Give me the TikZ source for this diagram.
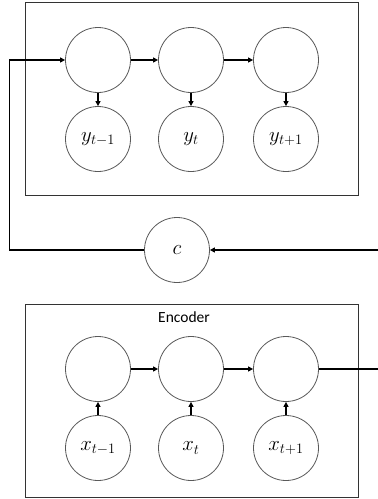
\documentclass[tikz,border=0pt]{standalone}
\usepackage{fontspec}
\newfontfamily\encfont{Carlito}
\usetikzlibrary{arrows.meta}
\tikzset{
  cell/.style={circle,draw=black!65,line width=0.8pt,minimum size=65pt,inner sep=0pt,
    font=\fontsize{20}{24}\selectfont},
  frame/.style={draw=black!80,line width=0.9pt},
  link/.style={line width=1.3pt,-{Triangle[length=5pt,width=5pt]}},
  wire/.style={line width=1.3pt}
}

\begin{document}
\begin{tikzpicture}[x=1pt,y=-1pt]
  \useasboundingbox (0,0) rectangle (378,499);
  % the two frames
  \draw[frame] (25,2) rectangle (358,195);
  \draw[frame] (25,304) rectangle (358,497);
  \node[font=\encfont\fontsize{15.5}{18}\selectfont] (enc) at (184,317) {Encoder};
  % three time steps, top and bottom
  \foreach \i/\xc/\s in {1/98/t-1,2/191/t,3/286/t+1}{
    \node[cell] (h\i) at (\xc,60) {};
    \node[cell] (y\i) at (\xc,139) {$y_{\s}$};
    \node[cell] (e\i) at (\xc,369) {};
    \node[cell] (x\i) at (\xc,448) {$x_{\s}$};
    \draw[link] (h\i) -- (y\i);
    \draw[link] (x\i) -- (e\i);
  }
  \draw[link] (h1) -- (h2);
  \draw[link] (h2) -- (h3);
  \draw[link] (e1) -- (e2);
  \draw[link] (e2) -- (e3);
  % context vector
  \node[cell] (c) at (177,250) {$c$};
  \coordinate (out) at (378,369);
  \coordinate (in) at (378,250);
  \coordinate (turn) at (9.5,250);
  \draw[wire] (e3) -- (out);
  \draw[link] (in) -- (c);
  \draw[link] (c) -- (turn) |- (h1);
\end{tikzpicture}
\end{document}
